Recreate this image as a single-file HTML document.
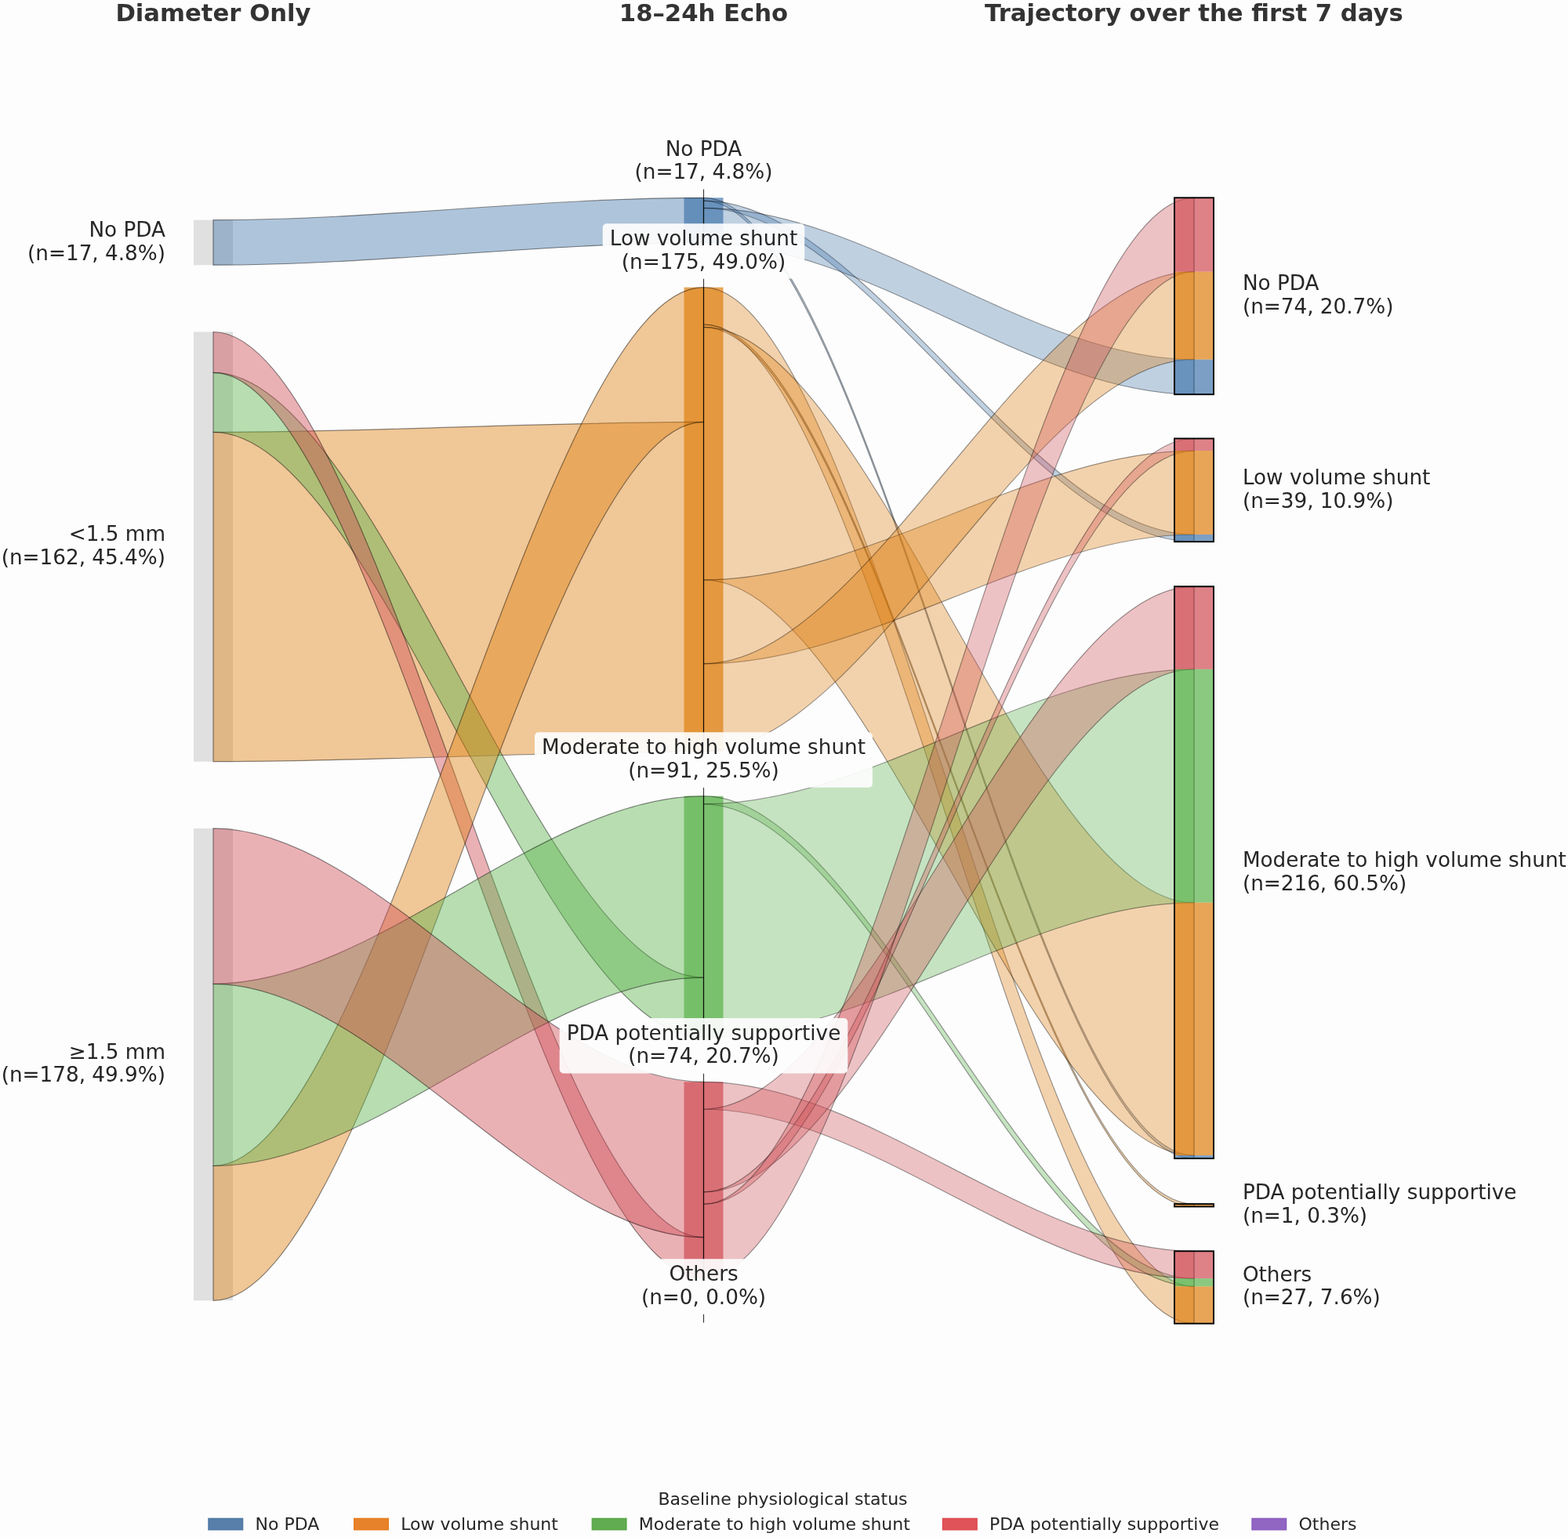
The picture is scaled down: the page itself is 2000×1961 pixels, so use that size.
<!DOCTYPE html><html><head><meta charset="utf-8"><style>html,body{margin:0;padding:0;overflow:hidden;background:#fdfdfd;}svg{display:block}text{font-family:"DejaVu Sans","Liberation Sans",sans-serif;fill:#262626}</style></head><body>
<svg width="2000" height="1961" viewBox="0 0 2000 1961">
<rect x="0" y="0" width="2000" height="1961" fill="#fdfdfd"/>
<rect x="247.0" y="280.70" width="50.0" height="57.50" fill="#e0e0e0"/>
<rect x="247.0" y="423.50" width="50.0" height="548.20" fill="#e0e0e0"/>
<rect x="247.0" y="1056.90" width="50.0" height="602.40" fill="#e0e0e0"/>
<rect x="872.5" y="252.30" width="50.0" height="57.50" fill="#4578ac" fill-opacity="0.700"/>
<rect x="872.5" y="366.60" width="50.0" height="592.20" fill="#de7f10" fill-opacity="0.700"/>
<rect x="872.5" y="1015.70" width="50.0" height="307.90" fill="#5ab24a" fill-opacity="0.700"/>
<rect x="872.5" y="1380.40" width="50.0" height="250.40" fill="#d04d55" fill-opacity="0.700"/>
<path d="M272.0,280.70 C480.5,280.70 689.0,252.30 897.5,252.30 L897.5,309.80 C689.0,309.80 480.5,338.20 272.0,338.20 Z" fill="#4578ac" fill-opacity="0.430" stroke="#000000" stroke-opacity="0.450" stroke-width="1.20"/>
<path d="M272.0,551.30 C480.5,551.30 689.0,538.40 897.5,538.40 L897.5,958.80 C689.0,958.80 480.5,971.70 272.0,971.70 Z" fill="#de7f10" fill-opacity="0.430" stroke="#000000" stroke-opacity="0.450" stroke-width="1.20"/>
<path d="M272.0,475.30 C480.5,475.30 689.0,1247.10 897.5,1247.10 L897.5,1323.60 C689.0,1323.60 480.5,551.30 272.0,551.30 Z" fill="#5ab24a" fill-opacity="0.430" stroke="#000000" stroke-opacity="0.450" stroke-width="1.20"/>
<path d="M272.0,423.50 C480.5,423.50 689.0,1578.70 897.5,1578.70 L897.5,1630.80 C689.0,1630.80 480.5,475.30 272.0,475.30 Z" fill="#d04d55" fill-opacity="0.430" stroke="#000000" stroke-opacity="0.450" stroke-width="1.20"/>
<path d="M272.0,1487.50 C480.5,1487.50 689.0,366.60 897.5,366.60 L897.5,538.40 C689.0,538.40 480.5,1659.30 272.0,1659.30 Z" fill="#de7f10" fill-opacity="0.430" stroke="#000000" stroke-opacity="0.450" stroke-width="1.20"/>
<path d="M272.0,1255.30 C480.5,1255.30 689.0,1015.70 897.5,1015.70 L897.5,1247.10 C689.0,1247.10 480.5,1487.50 272.0,1487.50 Z" fill="#5ab24a" fill-opacity="0.430" stroke="#000000" stroke-opacity="0.450" stroke-width="1.20"/>
<path d="M272.0,1056.90 C480.5,1056.90 689.0,1380.40 897.5,1380.40 L897.5,1578.70 C689.0,1578.70 480.5,1255.30 272.0,1255.30 Z" fill="#d04d55" fill-opacity="0.430" stroke="#000000" stroke-opacity="0.450" stroke-width="1.20"/>
<path d="M897.5,252.30 C1106.0,252.30 1314.5,1474.17 1523.0,1474.17 L1523.0,1478.06 C1314.5,1478.06 1106.0,256.19 897.5,256.19 Z" fill="#4578ac" fill-opacity="0.333" stroke="#000000" stroke-opacity="0.380" stroke-width="1.20"/>
<path d="M897.5,256.19 C1106.0,256.19 1314.5,682.00 1523.0,682.00 L1523.0,691.14 C1314.5,691.14 1106.0,265.33 897.5,265.33 Z" fill="#4578ac" fill-opacity="0.333" stroke="#000000" stroke-opacity="0.380" stroke-width="1.20"/>
<path d="M897.5,265.33 C1106.0,265.33 1314.5,458.72 1523.0,458.72 L1523.0,503.22 C1314.5,503.22 1106.0,309.83 897.5,309.83 Z" fill="#4578ac" fill-opacity="0.333" stroke="#000000" stroke-opacity="0.380" stroke-width="1.20"/>
<path d="M897.5,366.60 C1106.0,366.60 1314.5,1641.31 1523.0,1641.31 L1523.0,1688.68 C1314.5,1688.68 1106.0,413.98 897.5,413.98 Z" fill="#de7f10" fill-opacity="0.333" stroke="#000000" stroke-opacity="0.380" stroke-width="1.20"/>
<path d="M897.5,413.98 C1106.0,413.98 1314.5,1536.10 1523.0,1536.10 L1523.0,1539.48 C1314.5,1539.48 1106.0,417.36 897.5,417.36 Z" fill="#de7f10" fill-opacity="0.333" stroke="#000000" stroke-opacity="0.380" stroke-width="1.20"/>
<path d="M897.5,417.36 C1106.0,417.36 1314.5,1151.67 1523.0,1151.67 L1523.0,1474.17 C1314.5,1474.17 1106.0,739.86 897.5,739.86 Z" fill="#de7f10" fill-opacity="0.333" stroke="#000000" stroke-opacity="0.380" stroke-width="1.20"/>
<path d="M897.5,739.86 C1106.0,739.86 1314.5,575.07 1523.0,575.07 L1523.0,682.00 C1314.5,682.00 1106.0,846.79 897.5,846.79 Z" fill="#de7f10" fill-opacity="0.333" stroke="#000000" stroke-opacity="0.380" stroke-width="1.20"/>
<path d="M897.5,846.79 C1106.0,846.79 1314.5,346.71 1523.0,346.71 L1523.0,458.72 C1314.5,458.72 1106.0,958.80 897.5,958.80 Z" fill="#de7f10" fill-opacity="0.333" stroke="#000000" stroke-opacity="0.380" stroke-width="1.20"/>
<path d="M897.5,1015.70 C1106.0,1015.70 1314.5,1631.16 1523.0,1631.16 L1523.0,1641.31 C1314.5,1641.31 1106.0,1025.85 897.5,1025.85 Z" fill="#5ab24a" fill-opacity="0.333" stroke="#000000" stroke-opacity="0.380" stroke-width="1.20"/>
<path d="M897.5,1025.85 C1106.0,1025.85 1314.5,853.88 1523.0,853.88 L1523.0,1151.67 C1314.5,1151.67 1106.0,1323.64 897.5,1323.64 Z" fill="#5ab24a" fill-opacity="0.333" stroke="#000000" stroke-opacity="0.380" stroke-width="1.20"/>
<path d="M897.5,1380.40 C1106.0,1380.40 1314.5,1596.30 1523.0,1596.30 L1523.0,1631.16 C1314.5,1631.16 1106.0,1415.26 897.5,1415.26 Z" fill="#d04d55" fill-opacity="0.333" stroke="#000000" stroke-opacity="0.380" stroke-width="1.20"/>
<path d="M897.5,1415.26 C1106.0,1415.26 1314.5,748.30 1523.0,748.30 L1523.0,853.88 C1314.5,853.88 1106.0,1520.84 897.5,1520.84 Z" fill="#d04d55" fill-opacity="0.333" stroke="#000000" stroke-opacity="0.380" stroke-width="1.20"/>
<path d="M897.5,1520.84 C1106.0,1520.84 1314.5,559.50 1523.0,559.50 L1523.0,575.07 C1314.5,575.07 1106.0,1536.40 897.5,1536.40 Z" fill="#d04d55" fill-opacity="0.333" stroke="#000000" stroke-opacity="0.380" stroke-width="1.20"/>
<path d="M897.5,1536.40 C1106.0,1536.40 1314.5,252.30 1523.0,252.30 L1523.0,346.71 C1314.5,346.71 1106.0,1630.82 897.5,1630.82 Z" fill="#d04d55" fill-opacity="0.333" stroke="#000000" stroke-opacity="0.380" stroke-width="1.20"/>
<rect x="1498.0" y="252.30" width="50.0" height="94.41" fill="#d04d55" fill-opacity="0.700"/>
<rect x="1498.0" y="346.71" width="50.0" height="112.01" fill="#de7f10" fill-opacity="0.700"/>
<rect x="1498.0" y="458.72" width="50.0" height="44.50" fill="#4578ac" fill-opacity="0.700"/>
<line x1="1523.0" y1="252.30" x2="1523.0" y2="503.22" stroke="#000" stroke-opacity="0.22" stroke-width="1"/>
<rect x="1498.0" y="252.30" width="50.0" height="250.92" fill="none" stroke="#000" stroke-width="1.90"/>
<rect x="1498.0" y="559.50" width="50.0" height="15.57" fill="#d04d55" fill-opacity="0.700"/>
<rect x="1498.0" y="575.07" width="50.0" height="106.93" fill="#de7f10" fill-opacity="0.700"/>
<rect x="1498.0" y="682.00" width="50.0" height="9.14" fill="#4578ac" fill-opacity="0.700"/>
<line x1="1523.0" y1="559.50" x2="1523.0" y2="691.14" stroke="#000" stroke-opacity="0.22" stroke-width="1"/>
<rect x="1498.0" y="559.50" width="50.0" height="131.64" fill="none" stroke="#000" stroke-width="1.90"/>
<rect x="1498.0" y="748.30" width="50.0" height="105.58" fill="#d04d55" fill-opacity="0.700"/>
<rect x="1498.0" y="853.88" width="50.0" height="297.79" fill="#5ab24a" fill-opacity="0.700"/>
<rect x="1498.0" y="1151.67" width="50.0" height="322.50" fill="#de7f10" fill-opacity="0.700"/>
<rect x="1498.0" y="1474.17" width="50.0" height="3.89" fill="#4578ac" fill-opacity="0.700"/>
<line x1="1523.0" y1="748.30" x2="1523.0" y2="1478.06" stroke="#000" stroke-opacity="0.22" stroke-width="1"/>
<rect x="1498.0" y="748.30" width="50.0" height="729.76" fill="none" stroke="#000" stroke-width="1.90"/>
<rect x="1498.0" y="1536.10" width="50.0" height="3.38" fill="#de7f10" fill-opacity="0.700"/>
<line x1="1523.0" y1="1536.10" x2="1523.0" y2="1539.48" stroke="#000" stroke-opacity="0.22" stroke-width="1"/>
<rect x="1498.0" y="1536.10" width="50.0" height="3.38" fill="none" stroke="#000" stroke-width="1.90"/>
<rect x="1498.0" y="1596.30" width="50.0" height="34.86" fill="#d04d55" fill-opacity="0.700"/>
<rect x="1498.0" y="1631.16" width="50.0" height="10.15" fill="#5ab24a" fill-opacity="0.700"/>
<rect x="1498.0" y="1641.31" width="50.0" height="47.38" fill="#de7f10" fill-opacity="0.700"/>
<line x1="1523.0" y1="1596.30" x2="1523.0" y2="1688.68" stroke="#000" stroke-opacity="0.22" stroke-width="1"/>
<rect x="1498.0" y="1596.30" width="50.0" height="92.38" fill="none" stroke="#000" stroke-width="1.90"/>
<line x1="897.5" y1="241.30" x2="897.5" y2="309.80" stroke="#000" stroke-opacity="0.8" stroke-width="1.10"/>
<line x1="897.5" y1="355.60" x2="897.5" y2="958.80" stroke="#000" stroke-opacity="0.8" stroke-width="1.10"/>
<line x1="897.5" y1="1004.70" x2="897.5" y2="1323.60" stroke="#000" stroke-opacity="0.8" stroke-width="1.10"/>
<line x1="897.5" y1="1369.40" x2="897.5" y2="1630.80" stroke="#000" stroke-opacity="0.8" stroke-width="1.10"/>
<line x1="897.5" y1="1676.60" x2="897.5" y2="1687.60" stroke="#000" stroke-opacity="0.8" stroke-width="1.10"/>
<rect x="800.6" y="170.9" width="193.9" height="70.4" rx="5.0" fill="#fdfdfd" fill-opacity="0.920"/>
<text x="897.5" y="198.9" font-size="26.25" text-anchor="middle">No PDA</text>
<text x="897.5" y="228.3" font-size="26.25" text-anchor="middle">(n=17, 4.8%)</text>
<rect x="768.7" y="285.2" width="257.5" height="70.4" rx="5.0" fill="#fdfdfd" fill-opacity="0.920"/>
<text x="897.5" y="313.2" font-size="26.25" text-anchor="middle">Low volume shunt</text>
<text x="897.5" y="342.6" font-size="26.25" text-anchor="middle">(n=175, 49.0%)</text>
<rect x="682.0" y="934.3" width="430.9" height="70.4" rx="5.0" fill="#fdfdfd" fill-opacity="0.920"/>
<text x="897.5" y="962.3" font-size="26.25" text-anchor="middle">Moderate to high volume shunt</text>
<text x="897.5" y="991.7" font-size="26.25" text-anchor="middle">(n=91, 25.5%)</text>
<rect x="713.7" y="1299.0" width="367.6" height="70.4" rx="5.0" fill="#fdfdfd" fill-opacity="0.920"/>
<text x="897.5" y="1327.0" font-size="26.25" text-anchor="middle">PDA potentially supportive</text>
<text x="897.5" y="1356.4" font-size="26.25" text-anchor="middle">(n=74, 20.7%)</text>
<rect x="808.9" y="1606.2" width="177.2" height="70.4" rx="5.0" fill="#fdfdfd" fill-opacity="0.920"/>
<text x="897.5" y="1634.2" font-size="26.25" text-anchor="middle">Others</text>
<text x="897.5" y="1663.6" font-size="26.25" text-anchor="middle">(n=0, 0.0%)</text>
<text x="211.0" y="302.1" font-size="26.25" text-anchor="end">No PDA</text>
<text x="211.0" y="331.6" font-size="26.25" text-anchor="end">(n=17, 4.8%)</text>
<text x="211.0" y="690.2" font-size="26.25" text-anchor="end">&lt;1.5 mm</text>
<text x="211.0" y="719.7" font-size="26.25" text-anchor="end">(n=162, 45.4%)</text>
<text x="211.0" y="1350.7" font-size="26.25" text-anchor="end">≥1.5 mm</text>
<text x="211.0" y="1380.2" font-size="26.25" text-anchor="end">(n=178, 49.9%)</text>
<text x="1584.9" y="370.1" font-size="26.25" text-anchor="start">No PDA</text>
<text x="1584.9" y="399.6" font-size="26.25" text-anchor="start">(n=74, 20.7%)</text>
<text x="1584.9" y="618.1" font-size="26.25" text-anchor="start">Low volume shunt</text>
<text x="1584.9" y="647.6" font-size="26.25" text-anchor="start">(n=39, 10.9%)</text>
<text x="1584.9" y="1106.3" font-size="26.25" text-anchor="start">Moderate to high volume shunt</text>
<text x="1584.9" y="1135.8" font-size="26.25" text-anchor="start">(n=216, 60.5%)</text>
<text x="1584.9" y="1530.4" font-size="26.25" text-anchor="start">PDA potentially supportive</text>
<text x="1584.9" y="1559.9" font-size="26.25" text-anchor="start">(n=1, 0.3%)</text>
<text x="1584.9" y="1634.6" font-size="26.25" text-anchor="start">Others</text>
<text x="1584.9" y="1664.1" font-size="26.25" text-anchor="start">(n=27, 7.6%)</text>
<text x="272.0" y="26.9" font-size="30.70" text-anchor="middle" font-weight="bold" style="fill:#333333">Diameter Only</text>
<text x="897.5" y="26.9" font-size="30.70" text-anchor="middle" font-weight="bold" style="fill:#333333">18–24h Echo</text>
<text x="1523.0" y="26.9" font-size="30.70" text-anchor="middle" font-weight="bold" style="fill:#333333">Trajectory over the first 7 days</text>
<text x="998.5" y="1920.3" font-size="22.00" text-anchor="middle">Baseline physiological status</text>
<rect x="265.9" y="1937.3" width="43.8" height="14.6" fill="#406d9e" fill-opacity="0.88" stroke="#406d9e" stroke-opacity="0.88" stroke-width="1.2"/>
<text x="325.5" y="1951.6" font-size="22.00" text-anchor="start">No PDA</text>
<rect x="451.6" y="1937.3" width="43.8" height="14.6" fill="#e5710d" fill-opacity="0.88" stroke="#e5710d" stroke-opacity="0.88" stroke-width="1.2"/>
<text x="511.2" y="1951.6" font-size="22.00" text-anchor="start">Low volume shunt</text>
<rect x="755.2" y="1937.3" width="43.8" height="14.6" fill="#4ba138" fill-opacity="0.88" stroke="#4ba138" stroke-opacity="0.88" stroke-width="1.2"/>
<text x="814.8" y="1951.6" font-size="22.00" text-anchor="start">Moderate to high volume shunt</text>
<rect x="1202.4" y="1937.3" width="43.8" height="14.6" fill="#dc3b42" fill-opacity="0.88" stroke="#dc3b42" stroke-opacity="0.88" stroke-width="1.2"/>
<text x="1262.0" y="1951.6" font-size="22.00" text-anchor="start">PDA potentially supportive</text>
<rect x="1596.9" y="1937.3" width="43.8" height="14.6" fill="#8250b9" fill-opacity="0.88" stroke="#8250b9" stroke-opacity="0.88" stroke-width="1.2"/>
<text x="1656.5" y="1951.6" font-size="22.00" text-anchor="start">Others</text>
</svg></body></html>
